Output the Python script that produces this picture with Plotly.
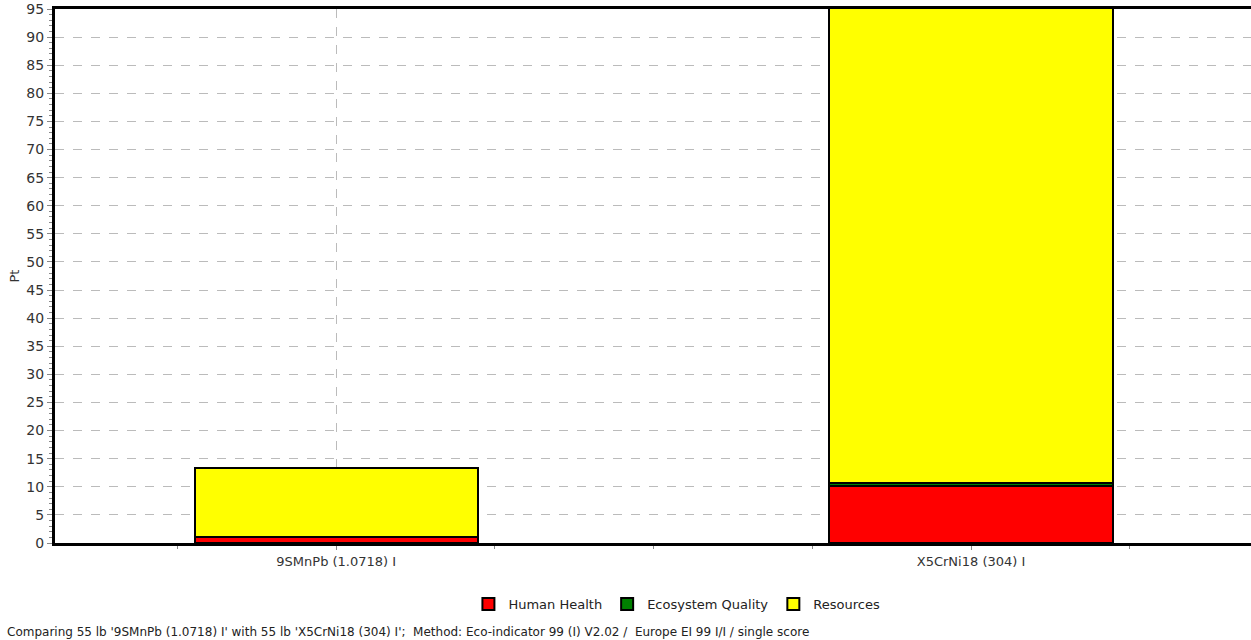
import plotly.graph_objects as go

categories = ["9SMnPb (1.0718) I", "X5CrNi18 (304) I"]
human_health = [1.0, 10.2]
ecosystem_quality = [0.1, 0.4]
resources = [12.3, 85.0]

series = [
    ("Human Health", human_health, "#ff0000"),
    ("Ecosystem Quality", ecosystem_quality, "#008000"),
    ("Resources", resources, "#ffff00"),
]

FONT = "DejaVu Sans"
xpos = list(range(len(categories)))

fig = go.Figure()
for name, vals, col in series:
    fig.add_trace(go.Bar(
        x=xpos, y=vals, name=name, width=0.446,
        marker=dict(color=col, line=dict(color="black", width=2)),
    ))

fig.update_layout(
    barmode="stack",
    width=1251, height=640,
    margin=dict(l=55, r=0, t=9, b=97, autoexpand=False),
    paper_bgcolor="white", plot_bgcolor="white",
    font=dict(family=FONT, size=12, color="#333333"),
    showlegend=True,
    legend=dict(orientation="h", x=0.52, xanchor="center", y=-(589-543)/534, yanchor="top",
                font=dict(family=FONT, size=13, color="#222222"), itemwidth=30,
                traceorder="normal", tracegroupgap=0),
    xaxis=dict(
        range=[-0.443, 1.441], tickvals=xpos, ticktext=categories, automargin=False,
        showline=True, linecolor="black", linewidth=3, mirror=True,
        ticks="outside", ticklen=4, tickcolor="#888888",
        showgrid=True, gridcolor="#bbbbbb", griddash="dash", gridwidth=1,
        minor=dict(dtick=0.25, tick0=0, ticks="outside", ticklen=3, tickcolor="#888888", showgrid=False),
        zeroline=False,
        tickfont=dict(family=FONT, size=13, color="#333333"),
    ),
    yaxis=dict(
        range=[0, 95], dtick=5, tick0=0, automargin=False,
        showline=True, linecolor="black", linewidth=3, mirror=True,
        ticks="outside", ticklen=5, tickcolor="#888888",
        showgrid=True, gridcolor="#bbbbbb", griddash="dash", gridwidth=1,
        minor=dict(dtick=1, ticks="outside", ticklen=3, tickcolor="#888888", showgrid=False),
        zeroline=False,
        title=dict(text="Pt", standoff=4, font=dict(family=FONT, size=13, color="#333333")),
        tickfont=dict(family=FONT, size=14, color="#333333"),
    ),
)

fig.add_annotation(
    text="Comparing 55 lb '9SMnPb (1.0718) I' with 55 lb 'X5CrNi18 (304) I';  Method: Eco-indicator 99 (I) V2.02 /  Europe EI 99 I/I / single score",
    xref="paper", yref="paper", x=-50/1196, y=-(632-543)/534, xanchor="left", yanchor="middle",
    showarrow=False, font=dict(family=FONT, size=12, color="#222222"),
)

fig.write_html("out.html", config={"displayModeBar": False},
               post_script="document.body.style.margin='0';document.body.style.overflow='hidden';")
